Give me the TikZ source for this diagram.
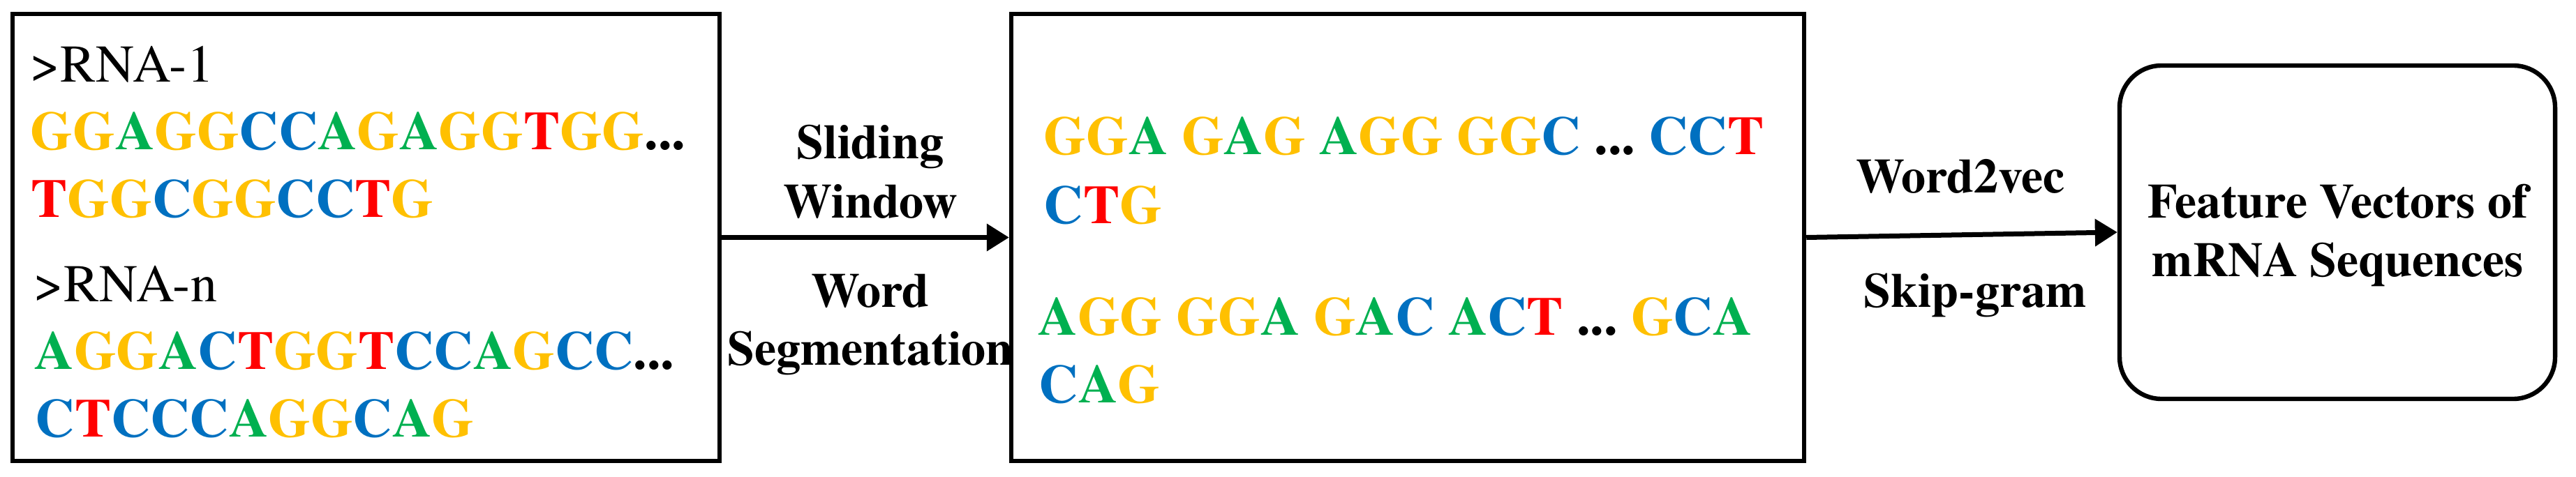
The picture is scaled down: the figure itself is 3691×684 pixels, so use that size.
\documentclass[tikz,border=0pt]{standalone}
\usepackage{fontspec}
\setmainfont{texgyretermes}[Extension=.otf, UprightFont=*-regular, BoldFont=*-bold, ItalicFont=*-italic, BoldItalicFont=*-bolditalic]
\usetikzlibrary{arrows.meta}
\definecolor{seqY}{HTML}{FFC000}
\definecolor{seqG}{HTML}{00B050}
\definecolor{seqB}{HTML}{0070C0}
\definecolor{seqR}{HTML}{FF0000}
\newcommand\sqG{\textcolor{seqY}{G}}
\newcommand\sqA{\textcolor{seqG}{A}}
\newcommand\sqC{\textcolor{seqB}{C}}
\newcommand\sqT{\textcolor{seqR}{T}}
\begin{document}
\begin{tikzpicture}[x=0.25pt,y=-0.25pt,
  boxnode/.style={draw, line width=1.6pt, inner sep=0pt},
  seqtext/.style={anchor=base west, inner sep=0pt, font=\fontsize{19.5}{23}\selectfont\bfseries},
  hdr/.style={anchor=base west, inner sep=0pt, font=\fontsize{19}{23}\selectfont},
  lbl/.style={anchor=base, inner sep=0pt, font=\fontsize{17.5}{21}\selectfont\bfseries},
  conn/.style={line width=1.75pt, -{Triangle[length=8pt,width=9.5pt]}}]
\useasboundingbox (0,0) rectangle (3691,684);
% boxes
\node[boxnode, minimum width=253.25pt, minimum height=160.25pt] (inbox) at (524.5,340.5) {};
\node[boxnode, minimum width=284pt, minimum height=160.25pt] (midbox) at (2017,340.5) {};
\node[boxnode, rounded corners=15pt, minimum width=156pt, minimum height=119.5pt] (featbox) at (3349,333) {};
% left box text
\node[hdr] (h1) at (43,118) {>RNA-1};
\node[seqtext] (s1a) at (43,214) {\sqG\sqG\sqA\sqG\sqG\sqC\sqC\sqA\sqG\sqA\sqG\sqG\sqT\sqG\sqG...};
\node[seqtext] (s1b) at (44,311) {\sqT\sqG\sqG\sqC\sqG\sqG\sqC\sqC\sqT\sqG};
\node[hdr] (h2) at (48,432) {>RNA-n};
\node[seqtext] (s2a) at (49,529) {\sqA\sqG\sqG\sqA\sqC\sqT\sqG\sqG\sqT\sqC\sqC\sqA\sqG\sqC\sqC...};
\node[seqtext] (s2b) at (50,626) {\sqC\sqT\sqC\sqC\sqC\sqA\sqG\sqG\sqC\sqA\sqG};
% middle box text
\node[seqtext] (m1a) at (1495,222) {\sqG\sqG\sqA\ \sqG\sqA\sqG\ \sqA\sqG\sqG\ \sqG\sqG\sqC\ ...\ \sqC\sqC\sqT};
\node[seqtext] (m1b) at (1495,320) {\sqC\sqT\sqG};
\node[seqtext] (m2a) at (1487,480) {\sqA\sqG\sqG\ \sqG\sqG\sqA\ \sqG\sqA\sqC\ \sqA\sqC\sqT\ ...\ \sqG\sqC\sqA};
\node[seqtext] (m2b) at (1488,577) {\sqC\sqA\sqG};
% connectors
\draw[conn] (inbox.east) -- (midbox.west);
\draw[conn] (midbox.east) -- (featbox.west);
% labels
\node[lbl] (l1) at (1247,227) {Sliding};
\node[lbl] (l2) at (1247,312) {Window};
\node[lbl] (l3) at (1247,440) {Word};
\node[lbl] (l4) at (1247,523) {Segmentation};
\node[lbl] (l5) at (2809,277) {Word2vec};
\node[lbl] (l6) at (2830,440) {Skip-gram};
\node[lbl] (f1) at (3350,312) {Feature Vectors of};
\node[lbl] (f2) at (3350,396) {mRNA Sequences};
\end{tikzpicture}
\end{document}
